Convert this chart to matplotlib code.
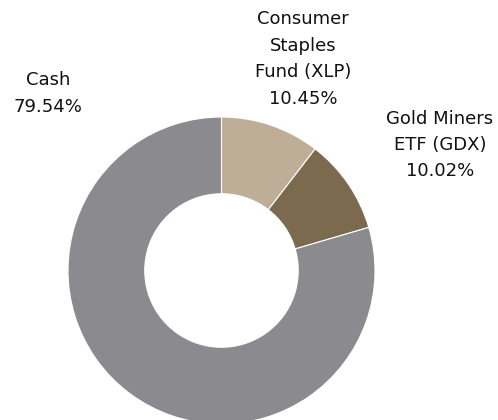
import matplotlib.pyplot as plt

# ----------------------------
# Dados
# ----------------------------
labels = ["Consumer\nStaples\nFund (XLP)", "Gold Miners\nETF (GDX)", "Cash"]
values = [10.45, 10.02, 79.54]
colors = ["#BEAE98", "#7C6A4F", "#8B8A8F"]

W, H = 498, 420

fig = plt.figure(figsize=(W / 100, H / 100), dpi=100)
ax = fig.add_axes([0, 0, 1, 1])

# donut: centro e raio em pixels (y para cima)
cx, cy, r = 221.5, H - 270.5, 153.5
ax.pie(
    values,
    colors=colors,
    startangle=90,
    counterclock=False,
    center=(cx, cy),
    radius=r,
    wedgeprops=dict(width=r * 0.5, edgecolor="white", linewidth=0.8),
)
ax.set_xlim(0, W)
ax.set_ylim(0, H)
ax.set_aspect("equal")
ax.axis("off")

# rótulos
fs = 13
txt = dict(fontsize=fs, ha="center", va="center", color="#111111", linespacing=1.6)
ax.text(303, H - 59, f"{labels[0]}\n{values[0]:.2f}%", **txt)
ax.text(440, H - 145, f"{labels[1]}\n{values[1]:.2f}%", **txt)
ax.text(48, H - 93.5, f"{labels[2]}\n{values[2]:.2f}%", **txt)

fig.savefig("out.png", dpi=100)
